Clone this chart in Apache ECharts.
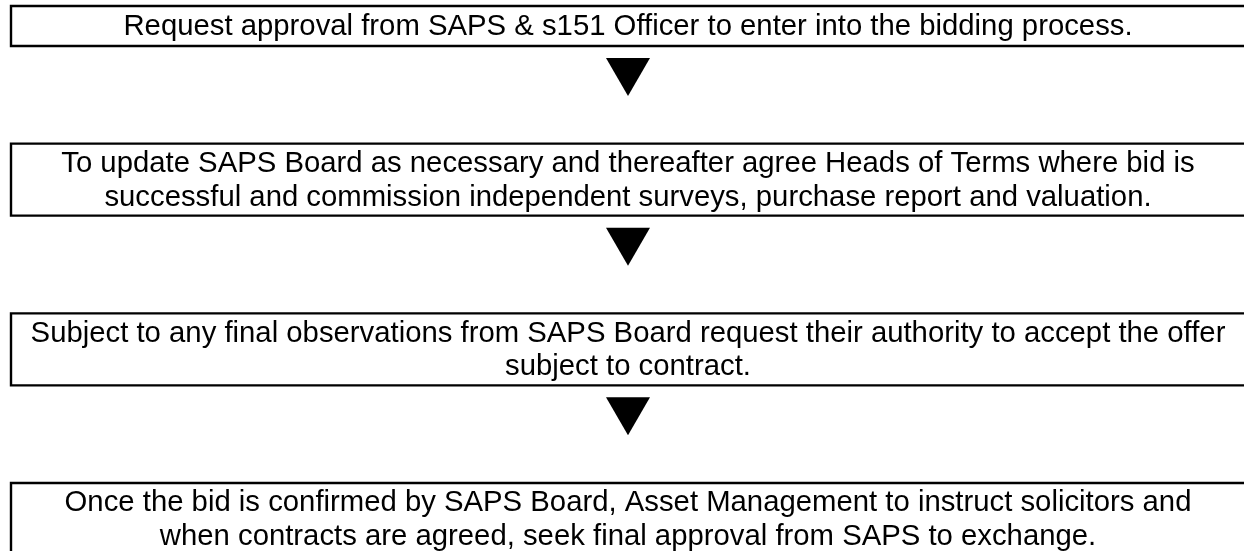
<!DOCTYPE html>
<html>
<head>
<meta charset="utf-8">
<script src="https://cdn.jsdelivr.net/npm/echarts@6/dist/echarts.min.js"></script>
<style>
html,body{margin:0;padding:0;background:#fff;}
#chart{width:1244px;height:551px;}
</style>
</head>
<body>
<div id="chart"></div>
<script>
// Flowchart steps (text lines of each box), top to bottom
const stepLines = [
  ["Request approval from SAPS & s151 Officer to enter into the bidding process."],
  ["To update SAPS Board as necessary and thereafter agree Heads of Terms where bid is",
   "successful and commission independent surveys, purchase report and valuation."],
  ["Subject to any final observations from SAPS Board request their authority to accept the offer",
   "subject to contract."],
  ["Once the bid is confirmed by SAPS Board, Asset Management to instruct solicitors and",
   "when contracts are agreed, seek final approval from SAPS to exchange."]
];
const stepIndex = [0, 1, 2, 3];

const FONT = 29.3;
const LINE_H = 33.5;

const chart = echarts.init(document.getElementById('chart'), null, {renderer: 'canvas'});
const option = {
  animation: false,
  backgroundColor: '#ffffff',
  grid: {left: 10, width: 1236, top: 46, height: 509, containLabel: false, outerBoundsMode: 'none'},
  xAxis: {type: 'value', min: 0, max: 1, show: false},
  yAxis: {type: 'value', min: 0, max: 3, inverse: true, show: false},
  series: [{
    type: 'custom',
    clip: false,
    data: stepIndex.map(i => [i]),
    encode: {y: 0},
    renderItem: function (params, api) {
      const i = api.value(0);
      const lines = stepLines[i];
      const left = api.coord([0, i]);
      const right = api.coord([1, i]);
      const bottom = left[1];
      const h = 8 + lines.length * 32;
      const top = bottom - h;
      const cx = (left[0] + right[0]) / 2;
      const children = [
        {
          type: 'rect',
          shape: {x: left[0] + 1, y: top, width: right[0] - left[0], height: h},
          style: {fill: '#ffffff', stroke: '#000000', lineWidth: 2.4}
        },
        {
          type: 'text',
          x: cx,
          y: (top + bottom) / 2 + 1,
          style: {
            text: lines.join('\n'),
            fill: '#000000',
            font: FONT + 'px "Liberation Sans", Arial, sans-serif',
            lineHeight: LINE_H,
            align: 'center',
            verticalAlign: 'middle'
          }
        }
      ];
      if (i < stepLines.length - 1) {
        const aTop = bottom + 12;
        const aH = 38, aW = 44;
        children.push({
          type: 'polygon',
          shape: {points: [[cx - aW / 2, aTop], [cx + aW / 2, aTop], [cx, aTop + aH]]},
          style: {fill: '#000000'}
        });
      }
      return {type: 'group', children: children};
    }
  }]
};
chart.setOption(option);
</script>
</body>
</html>
